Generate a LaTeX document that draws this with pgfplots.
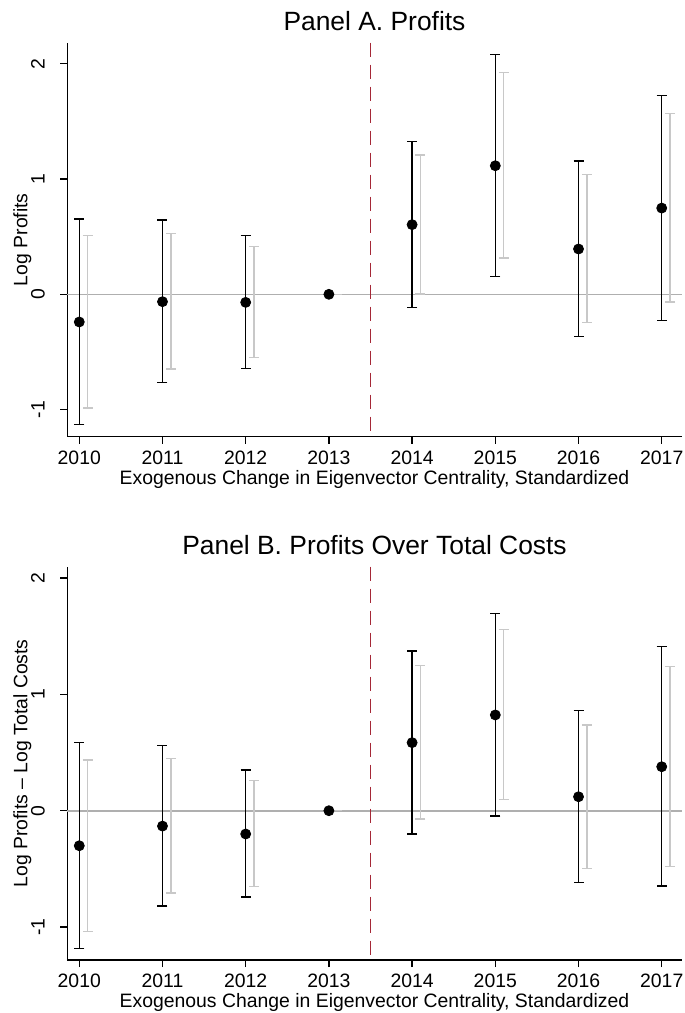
\documentclass[border=0pt]{standalone}
\usepackage{pgfplots}
\pgfplotsset{compat=1.18}
\usepackage{pgfplotstable}
\usepackage{fontspec}
\setmainfont{Liberation Sans}
\definecolor{bargray}{RGB}{200,200,200}
\definecolor{zerogray}{RGB}{175,175,175}
\definecolor{cranb}{RGB}{165,40,55}

% Panel A: point estimates and confidence bounds
\pgfplotstableread{
x y lo hi
2010 -0.240 -1.127 0.653
2011 -0.064 -0.763 0.644
2012 -0.070 -0.642 0.511
2013 0 0 0
2014 0.604 -0.116 1.327
2015 1.115 0.156 2.081
2016 0.393 -0.367 1.158
2017 0.748 -0.229 1.725
}\blackA
\pgfplotstableread{
x lo hi
2010.1 -0.986 0.511
2011.1 -0.648 0.529
2012.1 -0.550 0.413
2013.1 0 0
2014.1 0.003 1.210
2015.1 0.315 1.925
2016.1 -0.246 1.040
2017.1 -0.067 1.566
}\grayA
% Panel B
\pgfplotstableread{
x y lo hi
2010 -0.301 -1.183 0.585
2011 -0.132 -0.817 0.562
2012 -0.200 -0.742 0.350
2013 0 0 0
2014 0.585 -0.200 1.373
2015 0.823 -0.046 1.697
2016 0.120 -0.616 0.860
2017 0.378 -0.645 1.410
}\blackB
\pgfplotstableread{
x lo hi
2010.1 -1.037 0.438
2011.1 -0.708 0.447
2012.1 -0.653 0.258
2013.1 0 0
2014.1 -0.071 1.247
2015.1 0.095 1.556
2016.1 -0.495 0.737
2017.1 -0.478 1.241
}\grayB

\pgfplotsset{
  evstyle/.style={
    scale only axis, width=307.2pt,
    xmin=2009.856, xmax=2017.24,
    enlargelimits=false,
    xtick={2010,2011,2012,2013,2014,2015,2016,2017},
    xticklabels={2010,2011,2012,2013,2014,2015,2016,2017},
    ytick={-1,0,1,2}, yticklabels={-1,0,1,2},
    axis x line*=bottom, axis y line*=left,
    axis line style={-, line width=0.65pt, black},
    tick align=outside, major tick length=3.5pt,
    tick style={line width=0.65pt, black},
    ticklabel style={font=\fontsize{9.7pt}{11pt}\selectfont},
    xticklabel style={anchor=north, inner sep=0pt, yshift=-3.2pt},
    yticklabel style={xshift=-7.9pt, rotate=90, anchor=base, inner sep=0pt},
    xlabel={Exogenous Change in Eigenvector Centrality, Standardized},
    xlabel style={font=\fontsize{9.7pt}{11pt}\selectfont, at={([yshift=-23.75pt]axis description cs:0.5,0)}, anchor=base, inner sep=0pt},
    ylabel style={font=\fontsize{9.7pt}{11pt}\selectfont, at={([xshift=-20pt]axis description cs:0,0.5)}, anchor=base, inner sep=0pt},
    title style={font=\fontsize{13.2pt}{15pt}\selectfont, at={(axis description cs:0.5,1)}, anchor=base, inner sep=0pt},
    clip=false,
  },
  blackbars/.style={
    black, only marks, mark=*, mark size=2.5pt, mark options={fill=black, draw=black, solid},
    error bars/.cd, y dir=both, y explicit, error mark=|,
    error bar style={line width=0.75pt, black, solid},
    error mark options={line width=0.75pt, mark size=2.5pt, black, solid},
  },
  graybars/.style={
    bargray, only marks, mark=*, mark size=0pt, mark options={draw=none, fill=none},
    error bars/.cd, y dir=both, y explicit, error mark=|,
    error bar style={line width=0.75pt, bargray, solid},
    error mark options={line width=0.75pt, mark size=2.5pt, draw=bargray, solid},
  },
}

\begin{document}
\begin{tikzpicture}
\useasboundingbox (0pt,-506.5pt) rectangle (342.5pt,0pt);

\begin{axis}[evstyle, at={(33.65pt,-218.35pt)}, anchor=south west,
  height=197pt, ymin=-1.235, ymax=2.182,
  title={Panel A. Profits}, ylabel={Log Profits}]
  \addplot[zerogray, line width=0.8pt, mark=none] coordinates {(2009.856,0) (2017.24,0)};
  \addplot[graybars] table[x=x, y=hi, y error plus expr=0, y error minus expr=\thisrow{hi}-\thisrow{lo}] {\grayA};
  \addplot[blackbars] table[x=x, y=y, y error plus expr=\thisrow{hi}-\thisrow{y}, y error minus expr=\thisrow{y}-\thisrow{lo}] {\blackA};
  \addplot[cranb, line width=0.7pt, dash pattern=on 7pt off 4pt, mark=none] coordinates {(2013.5,2.182) (2013.5,-1.235)};
\end{axis}

\begin{axis}[evstyle, at={(33.65pt,-480pt)}, anchor=south west,
  height=196.65pt, ymin=-1.283, ymax=2.097,
  title={Panel B. Profits Over Total Costs}, ylabel={Log Profits -- Log Total Costs}]
  \addplot[zerogray, line width=0.8pt, mark=none] coordinates {(2009.856,0) (2017.24,0)};
  \addplot[graybars] table[x=x, y=hi, y error plus expr=0, y error minus expr=\thisrow{hi}-\thisrow{lo}] {\grayB};
  \addplot[blackbars] table[x=x, y=y, y error plus expr=\thisrow{hi}-\thisrow{y}, y error minus expr=\thisrow{y}-\thisrow{lo}] {\blackB};
  \addplot[cranb, line width=0.7pt, dash pattern=on 7pt off 4pt, mark=none] coordinates {(2013.5,2.097) (2013.5,-1.283)};
\end{axis}
\end{tikzpicture}
\end{document}
